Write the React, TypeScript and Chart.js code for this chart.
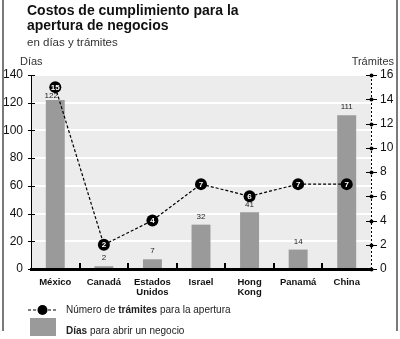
import React, { useEffect, useRef } from "react";
import { Chart, registerables } from "chart.js";

Chart.register(...registerables);

const FONT = "'Liberation Sans', Arial, Helvetica, sans-serif";

const categories: string[][] = [
  ["México"],
  ["Canadá"],
  ["Estados", "Unidos"],
  ["Israel"],
  ["Hong", "Kong"],
  ["Panamá"],
  ["China"],
];
const diasValues = [122, 2, 7, 32, 41, 14, 111];
const tramitesValues = [15, 2, 4, 7, 6, 7, 7];

const titleLines = ["Costos de cumplimiento para la", "apertura de negocios"];
const subtitleText = "en días y trámites";
const leftAxisTitle = "Días";
const rightAxisTitle = "Trámites";
const legendLine = ["Número de ", "trámites", " para la apertura"];
const legendBar = ["Días", " para abrir un negocio"];

const BAR_COLOR = "#9a9a9a";

const decorPlugin = {
  id: "decor",
  beforeDraw(chart: any) {
    const { ctx, chartArea: a } = chart;
    ctx.save();
    ctx.fillStyle = "#ffffff";
    ctx.fillRect(0, 0, chart.width, chart.height);
    ctx.fillStyle = "#ececec";
    ctx.fillRect(a.left, a.top, a.right - a.left, a.bottom - a.top);
    ctx.restore();
  },
  afterDatasetsDraw(chart: any) {
    const { ctx } = chart;
    const barMeta = chart.getDatasetMeta(0);
    const lineMeta = chart.getDatasetMeta(1);
    ctx.save();
    // bar value labels
    ctx.font = `8px ${FONT}`;
    ctx.fillStyle = "#222";
    ctx.textAlign = "center";
    ctx.textBaseline = "alphabetic";
    barMeta.data.forEach((el: any, i: number) => {
      let y = el.y - 6;
      let dx = 0;
      const p = lineMeta.data[i];
      if (p && p.y < el.y && el.y - p.y < 20) {
        y = Math.max(y, p.y + 11);
        if (el.y - p.y < 15) dx = -4;
      }
      ctx.fillText(String(diasValues[i]), el.x + dx, y);
    });
    // point labels
    ctx.font = `bold 8px ${FONT}`;
    ctx.fillStyle = "#ffffff";
    ctx.textBaseline = "middle";
    lineMeta.data.forEach((el: any, i: number) => {
      ctx.fillText(String(tramitesValues[i]), el.x, el.y + 0.5);
    });
    ctx.restore();
  },
  afterDraw(chart: any) {
    const { ctx, chartArea: a, scales } = chart;
    ctx.save();
    // frame
    ctx.strokeStyle = "#7a7a7a";
    ctx.lineWidth = 2;
    ctx.beginPath();
    ctx.moveTo(3, 0);
    ctx.lineTo(3, 331);
    ctx.moveTo(397, 0);
    ctx.lineTo(397, 331);
    ctx.stroke();

    // titles
    ctx.fillStyle = "#111";
    ctx.textAlign = "left";
    ctx.textBaseline = "alphabetic";
    ctx.font = `bold 14px ${FONT}`;
    ctx.fillText(titleLines[0], 27, 15);
    ctx.fillText(titleLines[1], 27, 30);
    ctx.fillStyle = "#333";
    ctx.font = `11.5px ${FONT}`;
    ctx.fillText(subtitleText, 27, 46);
    ctx.font = `11px ${FONT}`;
    ctx.fillText(leftAxisTitle, 20, 65);
    ctx.textAlign = "right";
    ctx.fillText(rightAxisTitle, 394, 65);

    // left axis line and ticks
    const y = scales.y;
    ctx.strokeStyle = "#000";
    ctx.lineWidth = 1;
    ctx.beginPath();
    ctx.moveTo(a.left + 0.5, y.getPixelForValue(140));
    ctx.lineTo(a.left + 0.5, a.bottom);
    y.ticks.forEach((t: any) => {
      const py = Math.round(y.getPixelForValue(t.value)) + 0.5;
      ctx.moveTo(a.left - 3, py);
      ctx.lineTo(a.left + 4, py);
    });
    ctx.stroke();

    // right axis dashed line and ticks
    const y2 = scales.y2;
    ctx.setLineDash([2, 2]);
    ctx.beginPath();
    ctx.moveTo(a.right + 0.5, y2.getPixelForValue(16));
    ctx.lineTo(a.right + 0.5, a.bottom);
    ctx.stroke();
    ctx.setLineDash([]);
    ctx.fillStyle = "#000";
    y2.ticks.forEach((t: any) => {
      const py = Math.round(y2.getPixelForValue(t.value)) + 0.5;
      ctx.beginPath();
      ctx.moveTo(a.right - 5, py);
      ctx.lineTo(a.right + 6, py);
      ctx.stroke();
      ctx.beginPath();
      ctx.arc(a.right + 0.5, py, 2, 0, Math.PI * 2);
      ctx.fill();
    });

    // x axis thick line
    ctx.lineWidth = 3;
    ctx.beginPath();
    ctx.moveTo(a.left - 1, a.bottom + 0.5);
    ctx.lineTo(a.right + 1, a.bottom + 0.5);
    ctx.stroke();
    // category boundary ticks
    const x = scales.x;
    ctx.lineWidth = 2;
    ctx.beginPath();
    for (let i = 1; i < categories.length; i++) {
      const bx = Math.round((x.getPixelForValue(i - 1) + x.getPixelForValue(i)) / 2);
      ctx.moveTo(bx, a.bottom);
      ctx.lineTo(bx, a.bottom - 6);
    }
    ctx.stroke();

    // legend
    ctx.lineWidth = 1.2;
    ctx.setLineDash([3, 2]);
    ctx.beginPath();
    ctx.moveTo(28, 310);
    ctx.lineTo(57, 310);
    ctx.stroke();
    ctx.setLineDash([]);
    ctx.beginPath();
    ctx.arc(42.5, 310, 5, 0, Math.PI * 2);
    ctx.fill();
    ctx.fillStyle = BAR_COLOR;
    ctx.fillRect(30, 318, 26, 18);

    ctx.fillStyle = "#222";
    ctx.textAlign = "left";
    let tx = 66;
    legendLine.forEach((s, i) => {
      ctx.font = `${i === 1 ? "bold " : ""}10px ${FONT}`;
      ctx.fillText(s, tx, 313);
      tx += ctx.measureText(s).width;
    });
    tx = 66;
    legendBar.forEach((s, i) => {
      ctx.font = `${i === 0 ? "bold " : ""}10px ${FONT}`;
      ctx.fillText(s, tx, 334);
      tx += ctx.measureText(s).width;
    });
    ctx.restore();
  },
};

export default function App() {
  const ref = useRef<HTMLCanvasElement | null>(null);
  useEffect(() => {
    if (!ref.current) return;
    const chart = new Chart(ref.current, {
      type: "bar",
      data: {
        labels: categories as any,
        datasets: [
          {
            type: "bar",
            data: diasValues,
            backgroundColor: BAR_COLOR,
            borderWidth: 0,
            barPercentage: 0.39,
            categoryPercentage: 1,
            yAxisID: "y",
            order: 1,
          },
          {
            type: "line",
            data: tramitesValues,
            yAxisID: "y2",
            borderColor: "#000",
            borderWidth: 1.2,
            borderDash: [3, 2],
            pointRadius: 6,
            pointBackgroundColor: "#000",
            pointBorderColor: "#000",
            pointBorderWidth: 0,
            tension: 0,
            order: 0,
          },
        ] as any,
      },
      options: {
        responsive: false,
        animation: false,
        layout: { padding: { top: 75, left: 0, right: 0, bottom: 0 } },
        plugins: {
          legend: { display: false },
          title: { display: false },
          tooltip: { enabled: false },
        },
        scales: {
          x: {
            grid: { display: false, drawTicks: false },
            border: { display: false },
            ticks: {
              color: "#111",
              font: { family: FONT, size: 9.5, weight: "bold", lineHeight: 1.1 },
              padding: 8,
              maxRotation: 0,
              autoSkip: false,
            },
            afterFit: (s: any) => {
              s.height = 70;
            },
          },
          y: {
            position: "left",
            min: 0,
            max: 140,
            grid: { color: "#ffffff", lineWidth: 2, drawTicks: false },
            border: { display: false },
            ticks: {
              stepSize: 20,
              color: "#111",
              font: { family: FONT, size: 12 },
              padding: 8,
            },
            afterFit: (s: any) => {
              s.width = 31;
            },
          },
          y2: {
            position: "right",
            min: 0,
            max: 16,
            grid: { display: false, drawTicks: false },
            border: { display: false },
            ticks: {
              stepSize: 2,
              color: "#111",
              font: { family: FONT, size: 12 },
              padding: 9,
            },
            afterFit: (s: any) => {
              s.width = 29;
            },
          },
        },
      } as any,
      plugins: [decorPlugin],
    });
    return () => chart.destroy();
  }, []);
  return (
    <div style={{ position: "fixed", left: 0, top: 0, width: 400, height: 339, background: "#fff" }}>
      <canvas ref={ref} width={400} height={339} style={{ width: 400, height: 339, display: "block" }} />
    </div>
  );
}
